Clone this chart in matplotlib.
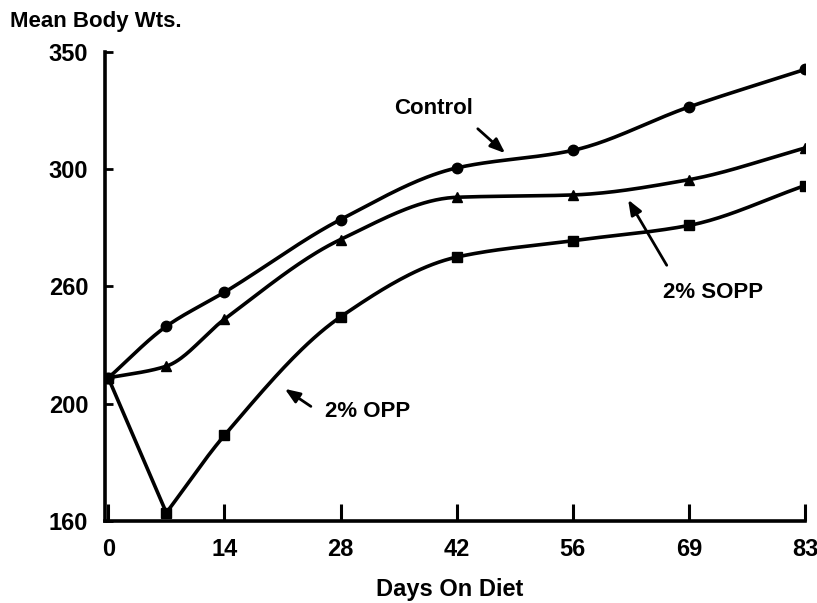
import numpy as np
import matplotlib
matplotlib.use("Agg")
import matplotlib.pyplot as plt

# ---- data ----
days = [0, 7, 14, 28, 42, 56, 70, 84]
control = [211, 233, 247.5, 278.5, 300.5, 308, 326.5, 342.5]
sopp = [211, 216, 236, 270, 288, 289, 295.5, 309]
opp = [211, 153.5, 186.5, 237, 262.5, 269.5, 276, 293]

xtick_pos = [0, 14, 28, 42, 56, 70, 84]
xtick_labels = ["0", "14", "28", "42", "56", "69", "83"]
ytick_pos = [150, 200, 250, 300, 350]
ytick_labels = ["160", "200", "260", "300", "350"]


def smooth(x, y, corners=(), n=40):
    """Piecewise cubic Hermite (PCHIP-style tangents) drawing curve."""
    x = np.asarray(x, float)
    y = np.asarray(y, float)
    k = len(x)
    h = np.diff(x)
    sl = np.diff(y) / h
    m = np.zeros(k)
    for i in range(1, k - 1):
        if sl[i - 1] * sl[i] <= 0:
            m[i] = 0.0
        else:
            w1 = 2 * h[i] + h[i - 1]
            w2 = h[i] + 2 * h[i - 1]
            m[i] = (w1 + w2) / (w1 / sl[i - 1] + w2 / sl[i])
    m[0] = sl[0]
    m[-1] = sl[-1]
    mL = m.copy()
    mR = m.copy()
    for i in corners:
        mL[i] = sl[i - 1]
        mR[i] = sl[i]
    xs, ys = [], []
    for i in range(k - 1):
        hh = h[i]
        t = np.linspace(0, 1, n)
        h00 = 2 * t**3 - 3 * t**2 + 1
        h10 = t**3 - 2 * t**2 + t
        h01 = -2 * t**3 + 3 * t**2
        h11 = t**3 - t**2
        yy = h00 * y[i] + h10 * hh * mR[i] + h01 * y[i + 1] + h11 * hh * mL[i + 1]
        xs.append(x[i] + t * hh)
        ys.append(yy)
    return np.concatenate(xs), np.concatenate(ys)


plt.rcParams['font.family'] = ['Liberation Sans', 'DejaVu Sans']
fig = plt.figure(figsize=(8.17, 6.03), dpi=100)
ax = fig.add_axes([0.1285, 0.136, 0.8568, 0.778])

lw = 2.6
for ys, mk, corners in [(control, 'o', ()), (sopp, '^', ()), (opp, 's', (1,))]:
    sx, sy = smooth(days, ys, corners=corners)
    ax.plot(sx, sy, color='black', lw=lw, solid_capstyle='round')
    ax.plot(days, ys, linestyle='none', marker=mk, color='black', markersize=7.5)

ax.set_xlim(-0.4, 84)
ax.set_ylim(150, 350)
for s in ['top', 'right']:
    ax.spines[s].set_visible(False)
for s in ['left', 'bottom']:
    ax.spines[s].set_linewidth(2.6)

ax.set_xticks(xtick_pos)
ax.set_xticklabels(xtick_labels)
ax.set_yticks(ytick_pos)
ax.set_yticklabels(ytick_labels)
ax.tick_params(axis='x', direction='in', length=12, width=2.2, pad=12,
               labelsize=17)
ax.tick_params(axis='y', direction='in', length=6, width=2, pad=12,
               labelsize=17)
for lab in ax.get_xticklabels() + ax.get_yticklabels():
    lab.set_fontweight('bold')

fig.text(0.012, 0.965, "Mean Body Wts.", fontsize=16, fontweight='bold',
         ha='left', va='center')
fig.text(0.551, 0.022, "Days On Diet", fontsize=17, fontweight='bold',
         ha='center', va='center')

arrowprops = dict(arrowstyle='-|>,head_length=0.9,head_width=0.35',
                  color='black', lw=2)
ax.annotate("", xy=(48.1, 306), xytext=(44.3, 318), arrowprops=arrowprops)
ax.text(39.2, 326, "Control", fontsize=16, fontweight='bold',
        ha='center', va='center')

ax.annotate("", xy=(62.5, 288), xytext=(67.5, 258), arrowprops=arrowprops)
ax.text(72.9, 247.2, "2% SOPP", fontsize=16, fontweight='bold',
        ha='center', va='center')

ax.annotate("", xy=(21, 207), xytext=(24.7, 198.2), arrowprops=arrowprops)
ax.text(31.3, 196.5, "2% OPP", fontsize=16, fontweight='bold',
        ha='center', va='center')

fig.savefig("out.png", dpi=100)
